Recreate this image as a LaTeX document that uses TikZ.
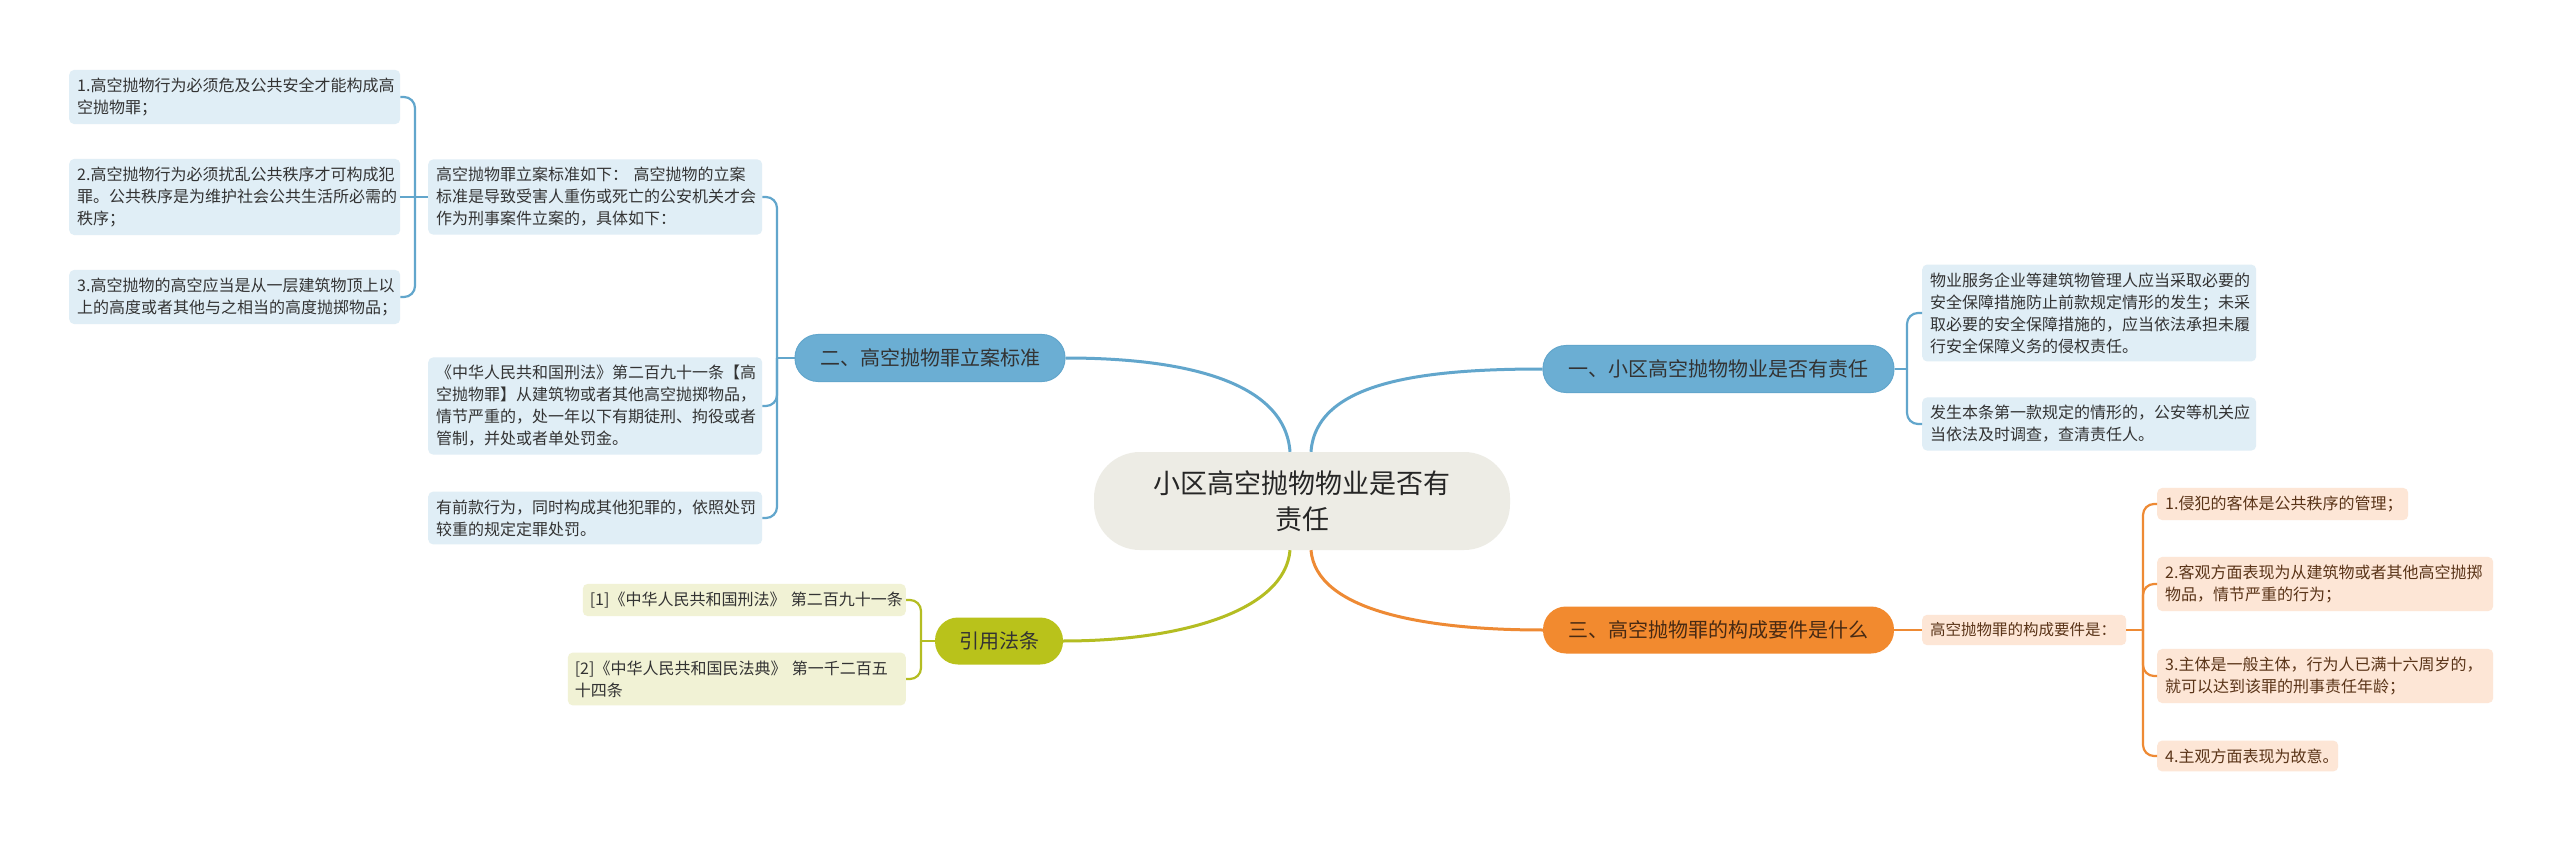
\documentclass[tikz,border=0pt]{standalone}
\usepackage{fontspec}
\setmainfont{Noto Sans CJK SC}
\definecolor{rootfill}{HTML}{EDECE5}
\definecolor{blueline}{HTML}{62A6CC}
\definecolor{bluefill}{HTML}{6BAED3}
\definecolor{blueleaf}{HTML}{E0EEF6}
\definecolor{orangeline}{HTML}{EE8A34}
\definecolor{orangefill}{HTML}{F28A2F}
\definecolor{orangeleaf}{HTML}{FDE6D6}
\definecolor{oliveline}{HTML}{B4BD22}
\definecolor{olivefill}{HTML}{B9C21B}
\definecolor{oliveleaf}{HTML}{F1F2D5}
\definecolor{txt}{HTML}{333333}
\definecolor{browntxt}{HTML}{5A3418}
\begin{document}
\begin{tikzpicture}[x=1pt, y=-1pt,
    every node/.style={text=txt, inner sep=0pt},
    branch/.style={rounded corners=23pt, minimum height=47pt, font=\fontsize{20}{24}\selectfont},
    leaf/.style={rounded corners=5pt, anchor=west, align=left, inner xsep=8pt, inner ysep=8pt,
        font=\fontsize{16}{22}\selectfont},
    bluebox/.style={leaf, fill=blueleaf},
    orangebox/.style={leaf, fill=orangeleaf, text=browntxt},
    olivebox/.style={leaf, fill=oliveleaf, inner xsep=7pt},
    link/.style={line width=3pt},
    brace/.style={line width=2.2pt, rounded corners=11pt}]
    \fill[white] (0,0) rectangle (2560,842);
    \useasboundingbox (0,0) rectangle (2560,842);

    % centre
    \node[fill=rootfill, rounded corners=46pt, minimum width=416pt, minimum height=98pt,
        align=center, font=\fontsize{27}{36}\selectfont, text=black!85] (root) at (1302,501)
        {小区高空抛物物业是否有\\责任};

    % branches
    \node[branch, fill=bluefill, draw=blueline, line width=1pt, minimum width=351pt] (one) at (1718.5,369)
        {一、小区高空抛物物业是否有责任};
    \node[branch, fill=bluefill, draw=blueline, line width=1pt, minimum width=270pt] (two) at (930,358)
        {二、高空抛物罪立案标准};
    \node[branch, fill=orangefill, minimum width=351pt, text=browntxt!80!black] (three) at (1718.5,630)
        {三、高空抛物罪的构成要件是什么};
    \node[branch, fill=olivefill, minimum width=128pt] (law) at (999,641)
        {引用法条};

    \draw[link, blueline] ([xshift=9pt]root.north) .. controls +(5,-70) and +(-120,0) .. (one.west);
    \draw[link, blueline] ([xshift=-12pt]root.north) .. controls +(-5,-70) and +(120,0) .. (two.east);
    \draw[link, orangeline] ([xshift=9pt]root.south) .. controls +(5,60) and +(-120,0) .. (three.west);
    \draw[link, oliveline] ([xshift=-12pt]root.south) .. controls +(-5,60) and +(120,0) .. (law.east);

    % branch one
    \node[bluebox, text width=318pt] (oneA) at (1922,313)
        {物业服务企业等建筑物管理人应当采取必要的\\安全保障措施防止前款规定情形的发生；未采\\取必要的安全保障措施的，应当依法承担未履\\行安全保障义务的侵权责任。};
    \node[bluebox, text width=318pt] (oneB) at (1922,424)
        {发生本条第一款规定的情形的，公安等机关应\\当依法及时调查，查清责任人。};
    \coordinate (jone) at (1907,369);
    \draw[brace, blueline] (one.east) -- (jone);
    \draw[brace, blueline] (jone) |- (oneA.west);
    \draw[brace, blueline] (jone) |- (oneB.west);

    % branch two
    \node[bluebox, text width=318pt] (twoA) at (428,197)
        {高空抛物罪立案标准如下：\ 高空抛物的立案\\标准是导致受害人重伤或死亡的公安机关才会\\作为刑事案件立案的，具体如下：};
    \node[bluebox, text width=318pt] (twoB) at (428,406)
        {《中华人民共和国刑法》第二百九十一条【高\\空抛物罪】从建筑物或者其他高空抛掷物品，\\情节严重的，处一年以下有期徒刑、拘役或者\\管制，并处或者单处罚金。};
    \node[bluebox, text width=318pt] (twoC) at (428,518)
        {有前款行为，同时构成其他犯罪的，依照处罚\\较重的规定定罪处罚。};
    \coordinate (jtwo) at (777,358);
    \draw[brace, blueline] (two.west) -- (jtwo);
    \draw[brace, blueline] (jtwo) |- (twoA.east);
    \draw[brace, blueline] (jtwo) |- (twoB.east);
    \draw[brace, blueline] (jtwo) |- (twoC.east);

    \node[bluebox, text width=315pt] (stdA) at (69,97)
        {1.高空抛物行为必须危及公共安全才能构成高\\空抛物罪；};
    \node[bluebox, text width=315pt] (stdB) at (69,197)
        {2.高空抛物行为必须扰乱公共秩序才可构成犯\\罪。公共秩序是为维护社会公共生活所必需的\\秩序；};
    \node[bluebox, text width=315pt] (stdC) at (69,297)
        {3.高空抛物的高空应当是从一层建筑物顶上以\\上的高度或者其他与之相当的高度抛掷物品；};
    \coordinate (jstd) at (415,197);
    \draw[brace, blueline] (twoA.west) -- (jstd);
    \draw[brace, blueline] (jstd) |- (stdA.east);
    \draw[brace, blueline] (jstd) -- (stdB.east);
    \draw[brace, blueline] (jstd) |- (stdC.east);

    % branch three
    \node[orangebox, text width=188pt, font=\fontsize{15.5}{22}\selectfont] (req) at (1922,630)
        {高空抛物罪的构成要件是：};
    \node[orangebox, text width=235pt] (reqA) at (2157,504)
        {1.侵犯的客体是公共秩序的管理；};
    \node[orangebox, text width=320pt] (reqB) at (2157,584)
        {2.客观方面表现为从建筑物或者其他高空抛掷\\物品，情节严重的行为；};
    \node[orangebox, text width=320pt] (reqC) at (2157,676)
        {3.主体是一般主体，行为人已满十六周岁的，\\就可以达到该罪的刑事责任年龄；};
    \node[orangebox, text width=165pt] (reqD) at (2157,756)
        {4.主观方面表现为故意。};
    \coordinate (jreq) at (2143,630);
    \draw[brace, orangeline] (three.east) -- (req.west);
    \draw[brace, orangeline] (req.east) -- (jreq);
    \foreach \n in {reqA,reqB,reqC,reqD}
        \draw[brace, orangeline] (jreq) |- (\n.west);

    % cited laws
    \node[olivebox, text width=309pt, anchor=east] (citeA) at (906,600)
        {\mbox{[1]《中华人民共和国刑法》 第二百九十一条}};
    \node[olivebox, text width=324pt, anchor=east] (citeB) at (906,679)
        {[2]《中华人民共和国民法典》~第一千二百五\\十四条};
    \coordinate (jlaw) at (921,641);
    \draw[brace, oliveline] (law.west) -- (jlaw);
    \draw[brace, oliveline] (jlaw) |- (citeA.east);
    \draw[brace, oliveline] (jlaw) |- (citeB.east);
\end{tikzpicture}
\end{document}
